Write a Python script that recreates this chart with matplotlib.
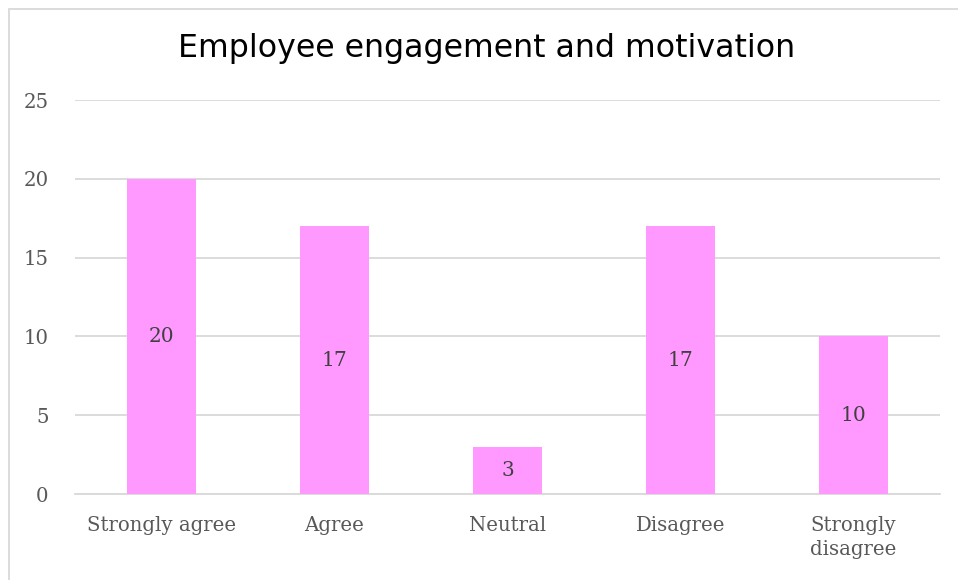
import matplotlib
matplotlib.use("Agg")
import matplotlib.pyplot as plt
from matplotlib.patches import Rectangle

categories = ["Strongly agree", "Agree", "Neutral", "Disagree", "Strongly\ndisagree"]
values = [20, 17, 3, 17, 10]
yticks = [0, 5, 10, 15, 20, 25]

W, H = 958, 580
fig = plt.figure(figsize=(W / 100, H / 100), dpi=100)
ax = fig.add_axes([75 / W, 1 - 494 / H, (940 - 75) / W, (494 - 100) / H])

bar_color = "#FF99FF"
text_color = "#595959"
grid_color = "#D9D9D9"
serif = ["DejaVu Serif"]

x = list(range(len(categories)))
bars = ax.bar(x, values, width=0.4, color=bar_color, zorder=3)
for xi, v in zip(x, values):
    ax.text(xi, v / 2, str(v), ha="center", va="center", fontsize=14.5,
            color="#404040", family=serif, zorder=4)

ax.set_xlim(-0.5, len(categories) - 0.5)
ax.set_ylim(0, 25)
ax.set_yticks(yticks)
ax.set_xticks(x)
ax.set_xticklabels(categories, family=serif, fontsize=14.2, color=text_color,
                   linespacing=1.3, va="top")
for lbl in ax.get_yticklabels():
    lbl.set_family(serif)
    lbl.set_fontsize(14.2)
    lbl.set_color(text_color)
ax.tick_params(axis="both", length=0)
ax.tick_params(axis="y", pad=19)
ax.tick_params(axis="x", pad=16)

ax.grid(axis="y", color=grid_color, linewidth=1.3, zorder=0)
for side in ["top", "right", "left"]:
    ax.spines[side].set_visible(False)
ax.spines["bottom"].set_color(grid_color)
ax.spines["bottom"].set_linewidth(1.3)
ax.spines["bottom"].set_zorder(2)

fig.text(487 / W, 1 - 49 / H, "Employee engagement and motivation",
         ha="center", va="center", fontsize=22.8, color="#000000",
         family=["DejaVu Sans"])

fig.patches.append(Rectangle((8.5 / W, -0.1), 1.2, 1.1 - 8.5 / H,
                             transform=fig.transFigure, fill=False,
                             edgecolor="#D9D9D9", linewidth=1.3))

fig.savefig("out.png", dpi=100, facecolor="white")
